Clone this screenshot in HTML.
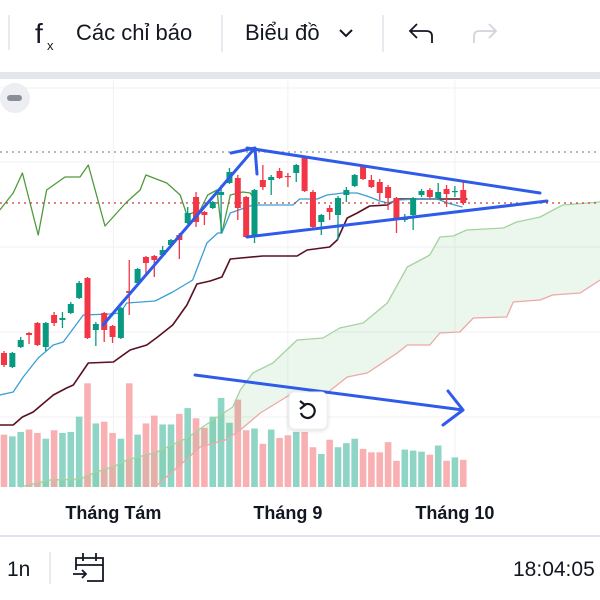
<!DOCTYPE html>
<html><head><meta charset="utf-8">
<style>
html,body{margin:0;padding:0;background:#fff;width:600px;height:600px;overflow:hidden;font-family:"Liberation Sans","Noto Sans CJK SC",sans-serif;}
svg{display:block}
text{font-family:"Liberation Sans","Noto Sans CJK SC",sans-serif}
</style></head>
<body>
<svg id="chart" width="600" height="600" viewBox="0 0 600 600">
  <g>
    <rect x="0" y="0" width="600" height="70" fill="#fff"/>
    <line x1="9" y1="15" x2="9" y2="50" stroke="#e0e3eb" stroke-width="1.5"/>
    <g>
      <text x="35" y="43" font-size="28" font-family="Liberation Serif, serif" fill="#131722">f</text>
      <text x="47" y="50" font-size="13" fill="#131722">x</text>
      <text x="76" y="40" font-size="22" fill="#131722">Các chỉ báo</text>
    </g>
    <line x1="222" y1="15" x2="222" y2="52" stroke="#e0e3eb" stroke-width="1.5"/>
    <g>
      <text x="245" y="40" font-size="22" fill="#131722">Biểu đồ</text>
      <path d="M340 30 L346 36 L352 30" fill="none" stroke="#131722" stroke-width="2"/>
    </g>
    <line x1="383" y1="15" x2="383" y2="52" stroke="#e0e3eb" stroke-width="1.5"/>
    <g>
      <path d="M432 43 L432 36 Q432 31 426 31 L411 31 M417 24 L410 31 L417 38" fill="none" stroke="#131722" stroke-width="1.8"/>
    </g>
    <g>
      <path d="M474 43 L474 36 Q474 31 480 31 L495 31 M489 24 L496 31 L489 38" fill="none" stroke="#d1d4dc" stroke-width="1.8"/>
    </g>
    <rect x="0" y="72" width="600" height="7" fill="#e3e6ec"/>
  </g>
  <defs><clipPath id="plot"><rect x="0" y="80" width="600" height="410"/></clipPath></defs>
  <g id="grid"></g>
  <g id="plotArea" clip-path="url(#plot)"></g>
  <g>
    <circle cx="15" cy="98" r="15" fill="#eceef2"/>
    <rect x="7" y="95" width="15" height="6" rx="3" fill="#8a8e99"/>
  </g>
  <g>
    <rect x="289" y="392" width="38" height="37" rx="6" fill="#fff" stroke="#eef0f3" style="filter:drop-shadow(0 1px 2px rgba(0,0,0,.15))"/>
    <path d="M301 413 A7 7 0 1 0 304 405" fill="none" stroke="#131722" stroke-width="2.2"/>
    <path d="M300 401 L305 405 L300 409" fill="none" stroke="#131722" stroke-width="2.2"/>
  </g>
  <g id="xlabels"></g>
  <line x1="0" y1="536" x2="600" y2="536" stroke="#e0e3eb" stroke-width="2"/>
  <g>
    <text x="7" y="576" font-size="21" fill="#131722">1n</text>
    <line x1="50" y1="552" x2="50" y2="584" stroke="#e0e3eb" stroke-width="1.5"/>
    <g fill="none" stroke="#131722" stroke-width="1.8">
      <path d="M76 570 L76 558 L103 558 L103 581 L87 581"/>
      <line x1="76" y1="565" x2="103" y2="565"/>
      <line x1="83" y1="553" x2="83" y2="561"/><line x1="96" y1="553" x2="96" y2="561"/>
      <path d="M73 574 L86 574 M82 570 L86 574 L82 578"/>
    </g>
    <text x="513" y="576" font-size="21" fill="#131722">18:04:05</text>
  </g>
</svg>
<script>
const categories = Array.from({length:56},(_,i)=>'D'+(i+1));
const opens  = [34.7,33.3,35.3,36.7,37.7,35.3,38.5,38.0,38.7,40.2,42.2,37.0,38.7,37.4,36.2,40.9,41.7,44.3,44.4,44.5,45.5,46.5,47.7,50.3,48.8,49.2,50.5,51.7,52.2,50.3,46.3,52.0,52.0,52.9,52.4,52.7,54.2,50.8,47.8,49.2,48.5,50.5,51.4,53.3,52.0,51.8,51.3,50.2,48.0,48.5,50.5,51.0,50.2,51.1,50.8,51.0];
const highs  = [34.9,34.8,36.3,36.8,37.8,37.8,38.8,38.8,39.8,41.9,42.3,37.8,38.8,37.5,39.3,44.0,43.2,44.4,44.5,45.4,46.1,46.7,49.3,50.8,48.9,49.9,51.5,53.2,52.5,50.4,51.1,53.5,52.5,53.2,52.7,53.6,54.3,51.0,48.6,49.5,50.4,51.3,52.6,53.4,52.5,52.1,51.5,50.3,48.6,50.3,51.1,51.2,51.7,51.5,51.4,51.8];
const lows   = [33.3,33.2,35.2,35.6,35.4,34.9,37.4,37.2,38.6,40.1,36.1,35.4,35.8,35.7,36.1,38.5,41.6,42.5,42.3,44.4,45.4,44.1,47.6,47.3,47.5,49.1,46.7,51.6,48.0,46.2,45.7,51.0,50.5,52.1,51.3,51.8,50.8,47.2,46.5,48.0,46.0,49.8,51.3,52.0,51.2,50.0,49.0,46.7,47.8,47.0,50.3,50.1,50.0,49.3,50.3,49.5];
const closes = [33.5,34.7,36.0,36.5,35.5,37.7,37.7,38.2,39.6,41.7,36.2,37.6,37.0,36.3,39.2,40.7,43.1,43.7,44.0,45.0,46.0,46.0,48.7,47.8,48.5,49.8,50.8,52.8,49.2,46.3,51.0,51.3,52.3,52.2,52.3,53.5,50.9,47.3,48.5,48.8,50.2,51.0,52.5,52.1,51.3,50.7,50.2,48.2,48.3,50.2,50.9,50.3,50.8,50.6,50.9,49.7];
const volumes = [154,149,162,169,159,142,167,159,162,207,305,187,192,159,142,305,154,187,210,184,184,215,232,202,174,207,262,189,257,167,172,127,169,144,152,162,162,117,97,139,117,129,142,112,102,102,132,77,110,107,104,95,122,77,87,80];
const chikouIdx = [-0.5,1.1,2.2,4.1,5.1,7.3,9.1,10.1,12.1,14.7,16.3,17.0,19.5,21.1,21.9,23.5,24.4,25.5,26.1,27.1,28.6,29.5,29.8];
const chikouVal = [49.0,50.7,52.7,46.5,51.0,52.3,52.3,53.5,47.4,49.8,51.0,52.5,51.7,50.5,48.5,49.0,50.5,51.0,46.7,50.5,50.8,50.7,50.3];
const tenkanIdx = [-0.5,1.1,2.3,4.1,5.9,7.1,9.5,12.7,13.9,14.7,18.1,20.2,22.6,24.3,25.6,26.1,27.1,29.8,34.6,35.4,37.5,38.7,40.6,42.3,43.8,45.0,46.0,47.1,49.8,51.9,53.1,54.9];
const tenkanVal = [30.5,30.8,32.3,34.2,35.5,35.8,38.5,38.6,38.7,39.7,39.9,40.8,42.0,45.7,46.7,46.7,48.7,49.5,49.5,50.1,50.1,50.5,50.7,50.7,50.3,49.9,49.7,50.0,50.1,50.1,49.7,49.3];
const kijunIdx = [-0.5,1.1,2.2,3.5,5.9,7.5,8.3,10.1,13.1,15.1,17.1,18.4,20.2,21.9,23.1,24.7,26.1,27.1,31.0,35.1,36.3,39.0,39.9,41.1,42.3,43.8,45.9,47.1,55.5];
const kijunVal = [27.5,27.5,28.3,28.8,30.5,31.2,31.5,33.7,33.8,35.0,35.5,36.3,37.5,39.5,41.6,41.9,42.3,44.1,44.4,44.4,45.0,45.3,46.0,48.2,48.7,49.4,49.5,50.1,50.1];
const spanAIdx = [1.9,5.5,9.1,11.0,13.3,14.7,18.3,21.9,25.0,27.4,28.3,29.8,32.2,35.1,38.2,40.2,43.0,45.9,48.3,51.0,52.2,53.8,55.4,59.8,61.4,64.2,66.9,71.4];
const spanAVal = [21.3,22.0,22.1,22.8,23.4,24.0,24.8,26.2,28.0,29.3,31.0,32.7,33.7,36.0,36.2,37.2,37.7,39.7,43.3,44.5,46.3,46.4,47.0,47.2,47.8,48.3,49.5,49.8];
const spanBIdx = [18.1,21.1,23.5,26.5,28.3,30.7,34.6,38.7,41.1,43.5,47.1,48.3,51.0,52.2,54.6,56.2,60.2,61.0,64.2,65.7,69.0,71.4];
const spanBVal = [21.3,23.5,25.3,26.0,27.0,28.7,30.7,30.7,32.3,32.7,34.7,35.5,35.5,36.7,36.8,38.2,38.3,39.8,40.0,40.5,40.7,42.0];
const monthLabels = ['Tháng Tám','Tháng 9','Tháng 10'];
const monthIdx = [13.1,34.0,54.0];
const refHigh = 54.8, refLast = 49.7;

const X0 = 4, STEP = 8.35;
function xs(i){ return X0 + i*STEP; }
function ys(p){ return (70 - p)*10; }
const VOL_BASE = 487, VOL_K = 0.34;
function yv(v){ return VOL_BASE - v*VOL_K; }

const NS='http://www.w3.org/2000/svg';
function mk(tag, attrs, parent){ const e=document.createElementNS(NS,tag); for(const k in attrs) e.setAttribute(k,attrs[k]); parent.appendChild(e); return e; }

const grid=document.getElementById('grid');
const plot=document.getElementById('plotArea');
[88,162,247,332,417].forEach(y=>{ const l=mk('line',{x1:0,x2:600,y1:y,y2:y,stroke:'#f0f1f4','stroke-width':1},grid);
  
   });
monthIdx.forEach(i=>{ const l=mk('line',{x1:xs(i),x2:xs(i),y1:80,y2:490,stroke:'#f0f1f4','stroke-width':1},grid);
  
   });

volumes.forEach((v,i)=>{
  const up = closes[i]>=opens[i];
  const r=mk('rect',{x:xs(i)-3.3,y:yv(v),width:6.6,height:v*VOL_K,fill:up?'#8fd5c6':'#f8b0b3'},plot);
  
  
});

function pts(ix,vals){ return ix.map((t,k)=>xs(t).toFixed(1)+','+ys(vals[k]).toFixed(1)); }
const aPts=pts(spanAIdx,spanAVal), bPts=pts(spanBIdx,spanBVal).reverse();
const cloud=mk('polygon',{points:aPts.concat(bPts).join(' '),fill:'rgba(76,175,80,0.11)'},plot);


function line(ix,vals,color,w,name){
  const p=mk('polyline',{points:pts(ix,vals).join(' '),fill:'none',stroke:color,'stroke-width':w,'stroke-linejoin':'round'},plot);
  
  
}
line(spanAIdx,spanAVal,'#a5d3a0',1.3,'senkou-span-a');
line(spanBIdx,spanBVal,'#eca9a6',1.3,'senkou-span-b');
line(chikouIdx,chikouVal,'#4f9a3c',1.3,'chikou-span');
line(kijunIdx,kijunVal,'#5a1020',1.6,'kijun-sen');
line(tenkanIdx,tenkanVal,'#3a9fd3',1.3,'tenkan-sen');

const h1=mk('line',{x1:0,x2:600,y1:ys(refHigh),y2:ys(refHigh),stroke:'#8f8f8f','stroke-width':1.3,'stroke-dasharray':'2 4'},plot);


const h2=mk('line',{x1:0,x2:600,y1:ys(refLast),y2:ys(refLast),stroke:'#c43a3a','stroke-width':1.3,'stroke-dasharray':'2 4'},plot);



opens.forEach((o,i)=>{
  const c=closes[i], up=c>=o, col=up?'#089981':'#f23645';
  const g=mk('g',{},plot);
  
  
  mk('line',{x1:xs(i),x2:xs(i),y1:ys(highs[i]),y2:ys(lows[i]),stroke:col,'stroke-width':1.3},g);
  const top=ys(Math.max(o,c)), bot=ys(Math.min(o,c));
  mk('rect',{x:xs(i)-3,y:top,width:6,height:Math.max(1.2,bot-top),fill:col},g);
});

const drawings=[
  ['trend-arrow-up','M103 325 L254 149 M231 153 L255 148 L257 174'],
  ['triangle-upper-line','M247 148 L540 193'],
  ['triangle-lower-line','M247 237 L547 201'],
  ['volume-down-arrow','M195 375 L463 410 M448 391 L463 410 L443 425']
];
drawings.forEach(d=>{
  const p=mk('path',{d:d[1],fill:'none',stroke:'#2e5bea','stroke-width':3,'stroke-linecap':'round','stroke-linejoin':'round'},plot);
  
  
});

const xl=document.getElementById('xlabels');
monthLabels.forEach((t,k)=>{
  const e=mk('text',{x:xs(monthIdx[k]),y:519,'text-anchor':'middle','font-size':18,'font-weight':'bold',fill:'#131722'},xl);
  e.textContent=t;
  
  
});
</script>
</body></html>
